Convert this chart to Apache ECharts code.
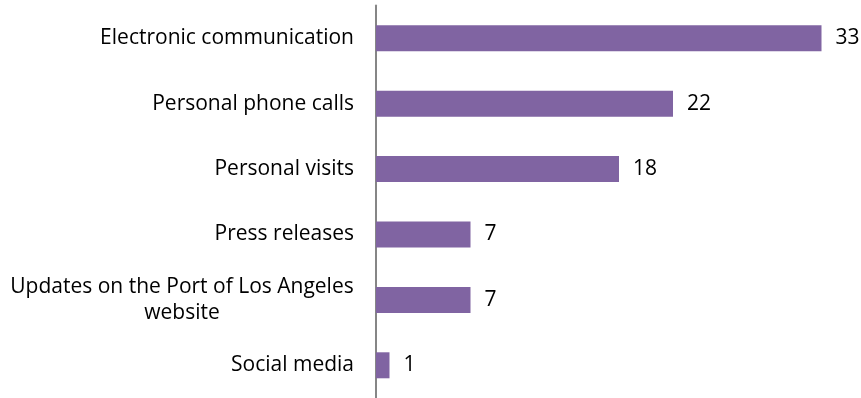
<!DOCTYPE html>
<html>
<head>
<meta charset="utf-8">
<style>
  html, body { margin: 0; padding: 0; background: #ffffff; }
  #chart { width: 861px; height: 398px; }
</style>
<script src="https://cdn.jsdelivr.net/npm/echarts@6/dist/echarts.min.js"></script>
</head>
<body>
<div id="chart"></div>
<script>
// Communication channels, listed top to bottom
const categories = [
  'Electronic communication',
  'Personal phone calls',
  'Personal visits',
  'Press releases',
  'Updates on the Port of Los Angeles website',
  'Social media'
];
const values = [33, 22, 18, 7, 7, 1];

const FONT = 'Open Sans';
const FONT_SIZE = 21;
const chart = echarts.init(document.getElementById('chart'));

// the category axis runs bottom-up, so reverse to keep the first item on top
const cats = categories.slice().reverse();
const vals = values.slice().reverse();

// the long label wraps onto two centred lines
const LINE1 = 'Updates on the Port of Los Angeles';
const LINE2 = 'website';
const ctx = document.createElement('canvas').getContext('2d');
ctx.font = FONT_SIZE + 'px "' + FONT + '"';
const wrapWidth = Math.ceil(ctx.measureText(LINE1).width);

chart.setOption({
  animation: false,
  grid: { left: 376, right: 39.5, top: 5.5, bottom: -3.5, containLabel: false },
  xAxis: {
    type: 'value',
    min: 0,
    max: 33,
    show: false
  },
  yAxis: {
    type: 'category',
    data: cats,
    axisLine: { show: true, lineStyle: { color: '#868686', width: 2 } },
    axisTick: { show: false },
    axisLabel: {
      margin: 22,
      color: '#000000',
      fontFamily: FONT,
      fontSize: FONT_SIZE,
      lineHeight: 26,
      formatter: function (v) {
        if (v.indexOf('Port of Los Angeles') >= 0) {
          return '{w|' + LINE1 + '}\n{w|' + LINE2 + '}';
        }
        return v;
      },
      rich: {
        w: { width: wrapWidth, align: 'center', fontFamily: FONT, fontSize: FONT_SIZE, lineHeight: 26, color: '#000000' }
      }
    }
  },
  series: [{
    type: 'bar',
    data: vals,
    barWidth: 26,
    itemStyle: { color: '#8064A2' },
    label: {
      show: true,
      position: 'right',
      distance: 14,
      color: '#000000',
      fontFamily: FONT,
      fontSize: FONT_SIZE
    }
  }]
});
</script>
</body>
</html>
